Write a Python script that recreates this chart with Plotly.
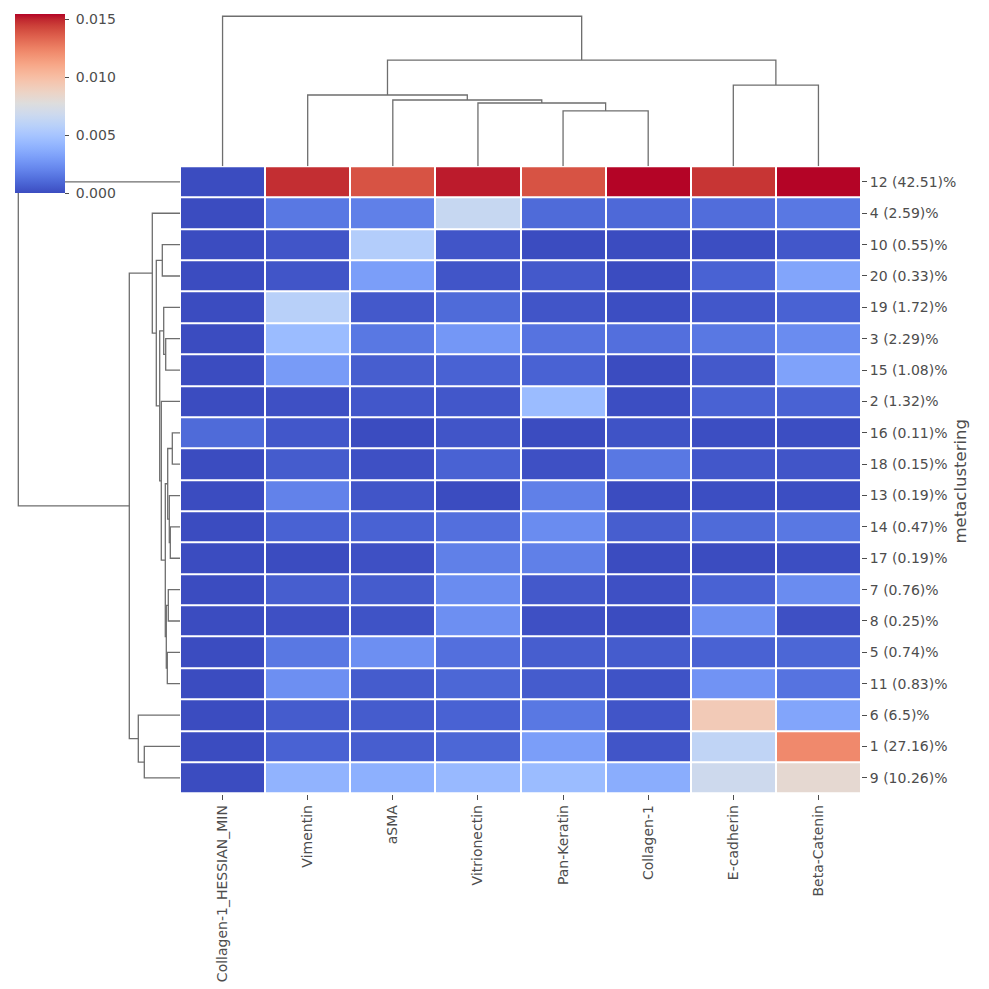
import plotly.graph_objects as go

# ---------------- data ----------------
row_labels = ["12 (42.51)%", "4 (2.59)%", "10 (0.55)%", "20 (0.33)%", "19 (1.72)%",
              "3 (2.29)%", "15 (1.08)%", "2 (1.32)%", "16 (0.11)%", "18 (0.15)%",
              "13 (0.19)%", "14 (0.47)%", "17 (0.19)%", "7 (0.76)%", "8 (0.25)%",
              "5 (0.74)%", "11 (0.83)%", "6 (6.5)%", "1 (27.16)%", "9 (10.26)%"]
col_labels = ["Collagen-1_HESSIAN_MIN", "Vimentin", "aSMA", "Vitrionectin",
              "Pan-Keratin", "Collagen-1", "E-cadherin", "Beta-Catenin"]

collagen1_hessian_min = [0.0, 0.0, 0.0, 0.0, 0.0, 0.0, 0.0, 0.0, 0.00108, 0.0,
                         0.0, 0.0, 0.0, 0.0, 0.0, 0.0, 0.0, 0.0, 0.0, 0.0]
vimentin = [0.01483, 0.00155, 0.00031, 0.00031, 0.00579, 0.00448, 0.00294, 0.00015, 0.00039, 0.00054,
            0.00193, 0.00077, 0.0, 0.00062, 0.00015, 0.00155, 0.00247, 0.00054, 0.00077, 0.00402]
asma = [0.01391, 0.00185, 0.00556, 0.00309, 0.00046, 0.00155, 0.00062, 0.00039, 0.0, 0.00015,
        0.00031, 0.00077, 0.00015, 0.00054, 0.00023, 0.00247, 0.00054, 0.00054, 0.00062, 0.00386]
vitrionectin = [0.01514, 0.00649, 0.00031, 0.00031, 0.00108, 0.00278, 0.00077, 0.00039, 0.00031, 0.00077,
                0.0, 0.00124, 0.00185, 0.00232, 0.00247, 0.00124, 0.00093, 0.00077, 0.00093, 0.00433]
pan_keratin = [0.01391, 0.00108, 0.0, 0.00046, 0.00031, 0.00139, 0.00077, 0.00448, 0.0, 0.00015,
               0.00185, 0.00232, 0.00185, 0.00046, 0.00015, 0.00062, 0.00054, 0.00155, 0.00309, 0.00448]
collagen1 = [0.01545, 0.001, 0.0, 0.0, 0.00008, 0.00124, 0.0, 0.00008, 0.00023, 0.00155,
             0.0, 0.00062, 0.0, 0.00015, 0.0, 0.00054, 0.00023, 0.00031, 0.00031, 0.00371]
e_cadherin = [0.01468, 0.00116, 0.00008, 0.00077, 0.00039, 0.00155, 0.00046, 0.00077, 0.00008, 0.00039,
              0.00008, 0.00108, 0.0, 0.00077, 0.00247, 0.00077, 0.00263, 0.00927, 0.00618, 0.0068]
beta_catenin = [0.01545, 0.00155, 0.00039, 0.0034, 0.00077, 0.00232, 0.00324, 0.00077, 0.00008, 0.00031,
                0.00008, 0.00155, 0.00008, 0.00232, 0.00015, 0.00093, 0.00139, 0.0034, 0.01221, 0.00819]

columns = [collagen1_hessian_min, vimentin, asma, vitrionectin,
           pan_keratin, collagen1, e_cadherin, beta_catenin]

# linkage (scipy-style: [left, right, distance]) in display-leaf order
row_linkage = [
    [8, 9, 7.7], [11, 12, 9.7], [10, 21, 10.7], [13, 14, 11.7], [20, 22, 12.3],
    [15, 16, 12.7], [23, 25, 13.7], [5, 6, 14.3], [24, 26, 14.7], [4, 27, 16.3],
    [2, 3, 17.7], [7, 28, 18.7], [29, 31, 20.3], [30, 32, 23.7], [1, 33, 27.7],
    [18, 19, 35.7], [17, 35, 41.7], [34, 36, 50.7], [0, 37, 161.7],
]
col_linkage = [
    [4, 5, 55.4], [3, 8, 63.4], [2, 9, 66.4], [1, 10, 71.4],
    [6, 7, 81.4], [11, 12, 106.4], [0, 13, 150.4],
]

cbar_ticks = [0.0, 0.005, 0.010, 0.015]

# matplotlib coolwarm control points
cw_r = [0.2298057, 0.26623388, 0.30386891, 0.342804478, 0.38301334, 0.424369608, 0.46666708,
        0.509635204, 0.552953156, 0.596262162, 0.639176211, 0.681291281, 0.722193294, 0.761464949,
        0.798691636, 0.833466556, 0.865395197, 0.897787179, 0.924127593, 0.944468518, 0.958852946,
        0.96732803, 0.969954137, 0.966811177, 0.958003065, 0.943660866, 0.923944917, 0.89904617,
        0.869186849, 0.834620542, 0.795631745, 0.752534934, 0.705673158]
cw_g = [0.298717966, 0.353094838, 0.406535296, 0.458757618, 0.50941904, 0.558148092, 0.604562568,
        0.648280772, 0.688929332, 0.726149107, 0.759599947, 0.788964712, 0.813952739, 0.834302879,
        0.849786142, 0.860207984, 0.86541021, 0.848937047, 0.827384882, 0.800927443, 0.769767752,
        0.734132809, 0.694266682, 0.650421156, 0.602842431, 0.551750968, 0.49730856, 0.439559467,
        0.378313092, 0.312874446, 0.24128379, 0.157246067, 0.01555616]
cw_b = [0.753683153, 0.801466763, 0.84495867, 0.883725899, 0.917387822, 0.945619588, 0.968154911,
        0.98478814, 0.995375608, 0.999836203, 0.998151185, 0.990363227, 0.976574709, 0.956945269,
        0.931688648, 0.901068838, 0.865395561, 0.820880546, 0.774508472, 0.726736146, 0.678007945,
        0.628751763, 0.579375448, 0.530263762, 0.481775914, 0.434243684, 0.387970225, 0.343229596,
        0.300267182, 0.259301199, 0.220525627, 0.184115123, 0.150232812]
coolwarm = [[i / 32, "rgb(%d,%d,%d)" % (round(r * 255), round(g * 255), round(b * 255))]
            for i, (r, g, b) in enumerate(zip(cw_r, cw_g, cw_b))]

# ---------------- build ----------------
W = H = 989
z = [[columns[c][r] for c in range(len(col_labels))] for r in range(len(row_labels))]


def dendro(n, merges):
    pos = {i: float(i) for i in range(n)}
    hgt = {i: 0.0 for i in range(n)}
    P, Hh = [], []
    for k, (a, b, h) in enumerate(merges):
        P += [pos[a], pos[a], pos[b], pos[b], None]
        Hh += [hgt[a], h, h, hgt[b], None]
        pos[n + k] = (pos[a] + pos[b]) / 2
        hgt[n + k] = h
    return P, Hh


hm_x0, hm_x1 = 180.0, 861.0
hm_y0, hm_y1 = 166.2, 793.5
text_col = "#4d4d4d"
line_col = "#6e6e6e"
fs = 14

fig = go.Figure()
fig.add_trace(go.Heatmap(
    z=z, x=list(range(len(col_labels))), y=list(range(len(row_labels))),
    colorscale=coolwarm, zmin=0.0, zmax=0.01545, xgap=2, ygap=2,
    xaxis="x", yaxis="y",
    colorbar=dict(
        x=15 / W, xanchor="left", y=1 - 14 / H, yanchor="top",
        len=179, lenmode="pixels", thickness=50, thicknessmode="pixels",
        outlinewidth=0, xpad=0, ypad=0, ticks="outside", ticklen=4,
        tickcolor=text_col, tickwidth=1,
        tickvals=cbar_ticks,
        ticktext=["\u00a0" + "%.3f" % t for t in cbar_ticks],
        tickfont=dict(size=fs, color=text_col, family="DejaVu Sans"),
    ),
))

rp, rh = dendro(len(row_labels), row_linkage)
fig.add_trace(go.Scatter(x=rh, y=rp, mode="lines", xaxis="x2", yaxis="y2",
                         line=dict(color=line_col, width=1.3), hoverinfo="skip",
                         showlegend=False))
cp, ch = dendro(len(col_labels), col_linkage)
fig.add_trace(go.Scatter(x=cp, y=ch, mode="lines", xaxis="x3", yaxis="y3",
                         line=dict(color=line_col, width=1.3), hoverinfo="skip",
                         showlegend=False))

hidden = dict(visible=False, showgrid=False, zeroline=False)
fig.update_layout(
    width=W, height=H, margin=dict(l=0, r=0, t=0, b=0),
    paper_bgcolor="white", plot_bgcolor="white",
    font=dict(family="DejaVu Sans", color=text_col),
    showlegend=False,
    xaxis=dict(domain=[hm_x0 / W, hm_x1 / W], range=[-0.5, len(col_labels) - 0.5],
               tickvals=list(range(len(col_labels))), ticktext=col_labels,
               tickangle=-90, ticks="outside", ticklen=5, tickcolor=text_col,
               tickfont=dict(size=fs, color=text_col), showgrid=False, zeroline=False,
               showline=False, anchor="y"),
    yaxis=dict(domain=[1 - hm_y1 / H, 1 - hm_y0 / H], range=[len(row_labels) - 0.5, -0.5],
               tickvals=list(range(len(row_labels))), ticktext=row_labels, side="right",
               ticks="outside", ticklen=5, tickcolor=text_col,
               tickfont=dict(size=fs, color=text_col), showgrid=False, zeroline=False,
               showline=False, anchor="x"),
    xaxis2=dict(domain=[0, hm_x0 / W], range=[hm_x0, 0], anchor="y2", **hidden),
    yaxis2=dict(domain=[1 - hm_y1 / H, 1 - hm_y0 / H], range=[len(row_labels) - 0.5, -0.5],
                anchor="x2", **hidden),
    xaxis3=dict(domain=[hm_x0 / W, hm_x1 / W], range=[-0.5, len(col_labels) - 0.5],
                anchor="y3", **hidden),
    yaxis3=dict(domain=[1 - hm_y0 / H, 1], range=[0, 166.7], anchor="x3", **hidden),
    annotations=[dict(text="metaclustering", x=971 / W, y=1 - 482 / H, xref="paper",
                      yref="paper", showarrow=False, textangle=-90,
                      font=dict(size=16.5, color=text_col))],
)

fig.write_html("out.html")
